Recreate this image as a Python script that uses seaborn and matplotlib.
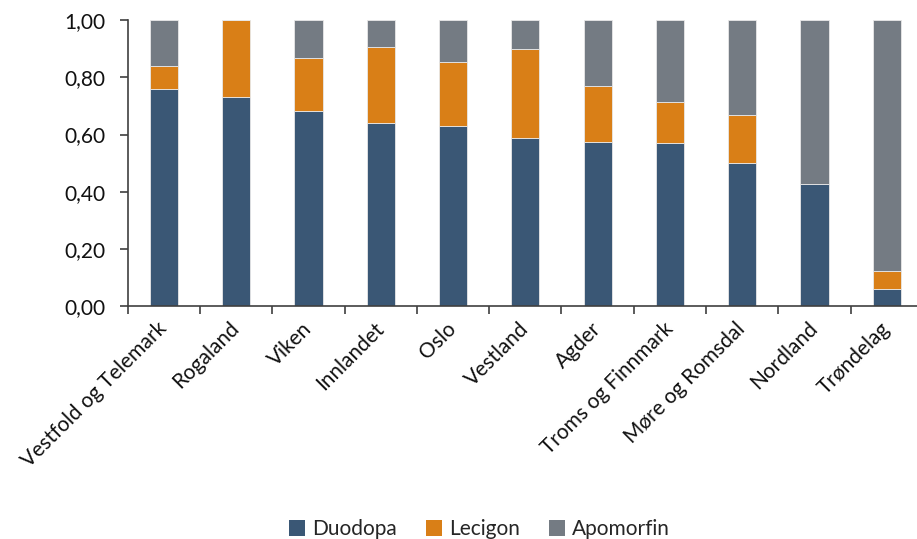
import matplotlib
matplotlib.use("Agg")
import matplotlib.pyplot as plt
import matplotlib.ticker as mticker
from matplotlib.patches import Patch
import numpy as np
import pandas as pd
import seaborn as sns

# Data (shares per region)
regioner = ["Vestfold og Telemark", "Rogaland", "Viken", "Innlandet", "Oslo",
            "Vestland", "Agder", "Troms og Finnmark", "Møre og Romsdal",
            "Nordland", "Trøndelag"]
duodopa = [0.760, 0.730, 0.684, 0.642, 0.629, 0.589, 0.575, 0.571, 0.500, 0.428, 0.060]
lecigon = [0.080, 0.270, 0.183, 0.263, 0.224, 0.309, 0.194, 0.144, 0.167, 0.000, 0.064]
apomorfin = [0.160, 0.000, 0.133, 0.095, 0.147, 0.102, 0.231, 0.285, 0.333, 0.572, 0.876]

serier = ["Duodopa", "Lecigon", "Apomorfin"]
farger = ["#3a5775", "#d97f17", "#747b83"]

df = pd.DataFrame({"Region": regioner, "Duodopa": duodopa,
                   "Lecigon": lecigon, "Apomorfin": apomorfin})

sns.set_style("white")
plt.rcParams["font.family"] = ["Lato", "DejaVu Sans"]

fig = plt.figure(figsize=(9.17, 5.39), dpi=100)
ax = fig.add_axes([127.7 / 917, 233 / 539, 795.3 / 917, 285.7 / 539])

bunn = np.zeros(len(regioner))
for serie, farge in zip(serier, farger):
    sns.barplot(data=df, x="Region", y=serie, color=farge, bottom=bunn,
                width=0.39, edgecolor="#e8e8e8", linewidth=0.6, ax=ax,
                saturation=1)
    bunn = bunn + df[serie].values

ax.set_ylim(0, 1.0)
ax.set_xlim(-0.5, len(regioner) - 0.5)
ax.yaxis.set_major_locator(mticker.MultipleLocator(0.2))
ax.yaxis.set_major_formatter(mticker.FuncFormatter(lambda v, p: f"{v:.2f}".replace(".", ",")))
ax.set_xlabel("")
ax.set_ylabel("")

for side in ["top", "right"]:
    ax.spines[side].set_visible(False)
for side in ["left", "bottom"]:
    ax.spines[side].set_color("#404040")
    ax.spines[side].set_linewidth(1.2)

ax.tick_params(axis="y", which="major", direction="out", length=6, width=1.2,
               color="#404040", labelsize=15, left=True, pad=10)
ax.tick_params(axis="x", which="major", length=0, labelsize=15, pad=14)
ax.set_xticks(np.arange(-0.5, len(regioner), 1.0), minor=True)
ax.tick_params(axis="x", which="minor", direction="out", length=6, width=1.2,
               color="#404040", bottom=True)
ax.set_xticks(range(len(regioner)))
ax.set_xticklabels(regioner, rotation=45, ha="right", va="center",
                   rotation_mode="anchor")
for lbl in ax.get_xticklabels() + ax.get_yticklabels():
    lbl.set_color("#111111")

handles = [Patch(facecolor=c, edgecolor="none", label=s) for s, c in zip(serier, farger)]
fig.legend(handles=handles, loc="center", bbox_to_anchor=(0.523, 0.018), ncol=3,
           frameon=False, fontsize=15, handlelength=0.75, handleheight=0.75,
           handletextpad=0.35, columnspacing=1.4, borderpad=0)

fig.savefig("out.png", dpi=100)
